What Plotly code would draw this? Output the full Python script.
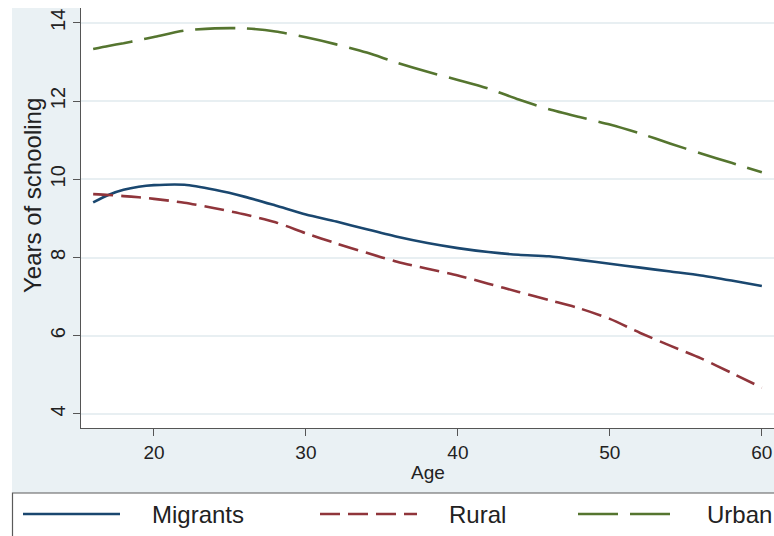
import plotly.graph_objects as go

# Years of schooling by age, three population groups
ages = [16, 17, 18, 19, 20, 22, 24, 26, 28, 30, 32, 34, 36, 38, 40, 42, 44, 46, 48, 50, 52, 54, 56, 58, 60]
migrants = [9.41, 9.60, 9.73, 9.81, 9.85, 9.86, 9.73, 9.55, 9.33, 9.10, 8.92, 8.72, 8.53, 8.37, 8.24,
            8.14, 8.07, 8.03, 7.94, 7.84, 7.74, 7.64, 7.54, 7.41, 7.27]
rural = [9.62, 9.60, 9.57, 9.54, 9.50, 9.40, 9.26, 9.10, 8.90, 8.62, 8.36, 8.12, 7.89, 7.71, 7.54,
         7.33, 7.12, 6.91, 6.70, 6.43, 6.07, 5.74, 5.42, 5.05, 4.67]
urban = [13.33, 13.41, 13.48, 13.56, 13.64, 13.80, 13.86, 13.86, 13.78, 13.63, 13.45, 13.24, 12.98,
         12.75, 12.54, 12.32, 12.04, 11.79, 11.59, 11.40, 11.17, 10.91, 10.66, 10.42, 10.18]

series_names = ["Migrants", "Rural", "Urban"]
x_ticks = [20, 30, 40, 50, 60]
y_ticks = [4, 6, 8, 10, 12, 14]

NAVY = "#1a476f"
MAROON = "#90353b"
GREEN = "#55752f"
REGION = "#eaf1f4"
FONT = "Liberation Sans, Arial, sans-serif"

W, H = 774, 536
ML, MR, MT, MB = 81, 0, 8, 108
PW, PH = W - ML - MR, H - MT - MB


def px(x):
    return (x - ML) / PW


def py(y):
    return (H - MB - y) / PH


styles = [
    dict(color=NAVY, width=2.6, dash="solid"),
    dict(color=MAROON, width=2.6, dash="20px,8px"),
    dict(color=GREEN, width=2.6, dash="40px,12px"),
]

fig = go.Figure()
for name, vals, st in zip(series_names, [migrants, rural, urban], styles):
    fig.add_trace(go.Scatter(x=ages, y=vals, mode="lines", name=name,
                             line=dict(shape="spline", smoothing=0.7, **st),
                             showlegend=False))

shapes = [
    # white margins around the graph region
    dict(type="rect", xref="paper", yref="paper", x0=px(-5), x1=px(12), y0=py(H + 5), y1=py(-5),
         fillcolor="white", line=dict(width=0), layer="below"),
    dict(type="rect", xref="paper", yref="paper", x0=px(-5), x1=px(W + 5), y0=py(MT), y1=py(-5),
         fillcolor="white", line=dict(width=0), layer="below"),
    # legend box
    dict(type="rect", xref="paper", yref="paper", x0=px(12.5), x1=px(W + 5), y0=py(H + 5), y1=py(493),
         fillcolor="white", line=dict(color="#5a5a5a", width=1.2), layer="above"),
]

legend_y = 514
legend_items = [(23, 120, 150), (320, 417, 447), (578, 675, 705)]
annotations = []
for (x0, x1, tx), name, st in zip(legend_items, series_names, styles):
    shapes.append(dict(type="line", xref="paper", yref="paper", x0=px(x0), x1=px(x1),
                       y0=py(legend_y), y1=py(legend_y),
                       line=dict(color=st["color"], width=2.6, dash=st["dash"]), layer="above"))
    annotations.append(dict(text=name, xref="paper", yref="paper", x=px(tx), y=py(legend_y),
                            xanchor="left", yanchor="middle", showarrow=False,
                            font=dict(family=FONT, size=24, color="#222222")))

annotations.append(dict(text="Age", xref="paper", yref="paper", x=px(428), y=py(472),
                        xanchor="center", yanchor="middle", showarrow=False,
                        font=dict(family=FONT, size=19, color="#222222")))
annotations.append(dict(text="Years of schooling", xref="paper", yref="paper", x=px(33), y=py(196),
                        xanchor="center", yanchor="middle", showarrow=False, textangle=-90,
                        font=dict(family=FONT, size=24, color="#222222")))

fig.update_layout(
    width=W, height=H,
    margin=dict(l=ML, r=MR, t=MT, b=MB),
    paper_bgcolor=REGION,
    plot_bgcolor="white",
    font=dict(family=FONT, size=19, color="#222222"),
    shapes=shapes,
    annotations=annotations,
    showlegend=False,
)
fig.update_xaxes(range=[15.2, 60.8], tickvals=x_ticks, showgrid=False, zeroline=False,
                 showline=True, linecolor="#555555", linewidth=1.2,
                 ticks="outside", ticklen=7, tickcolor="#555555", tickwidth=1.2,
                 tickfont=dict(size=19))
fig.update_yaxes(range=[3.64, 14.38], tickvals=y_ticks, showgrid=True, gridcolor="#e8eff2",
                 gridwidth=1.5, zeroline=False,
                 showline=True, linecolor="#555555", linewidth=1.2,
                 ticks="outside", ticklen=7, tickcolor="#555555", tickwidth=1.2,
                 tickangle=-90, tickfont=dict(size=20))

fig.write_html("out.html")
